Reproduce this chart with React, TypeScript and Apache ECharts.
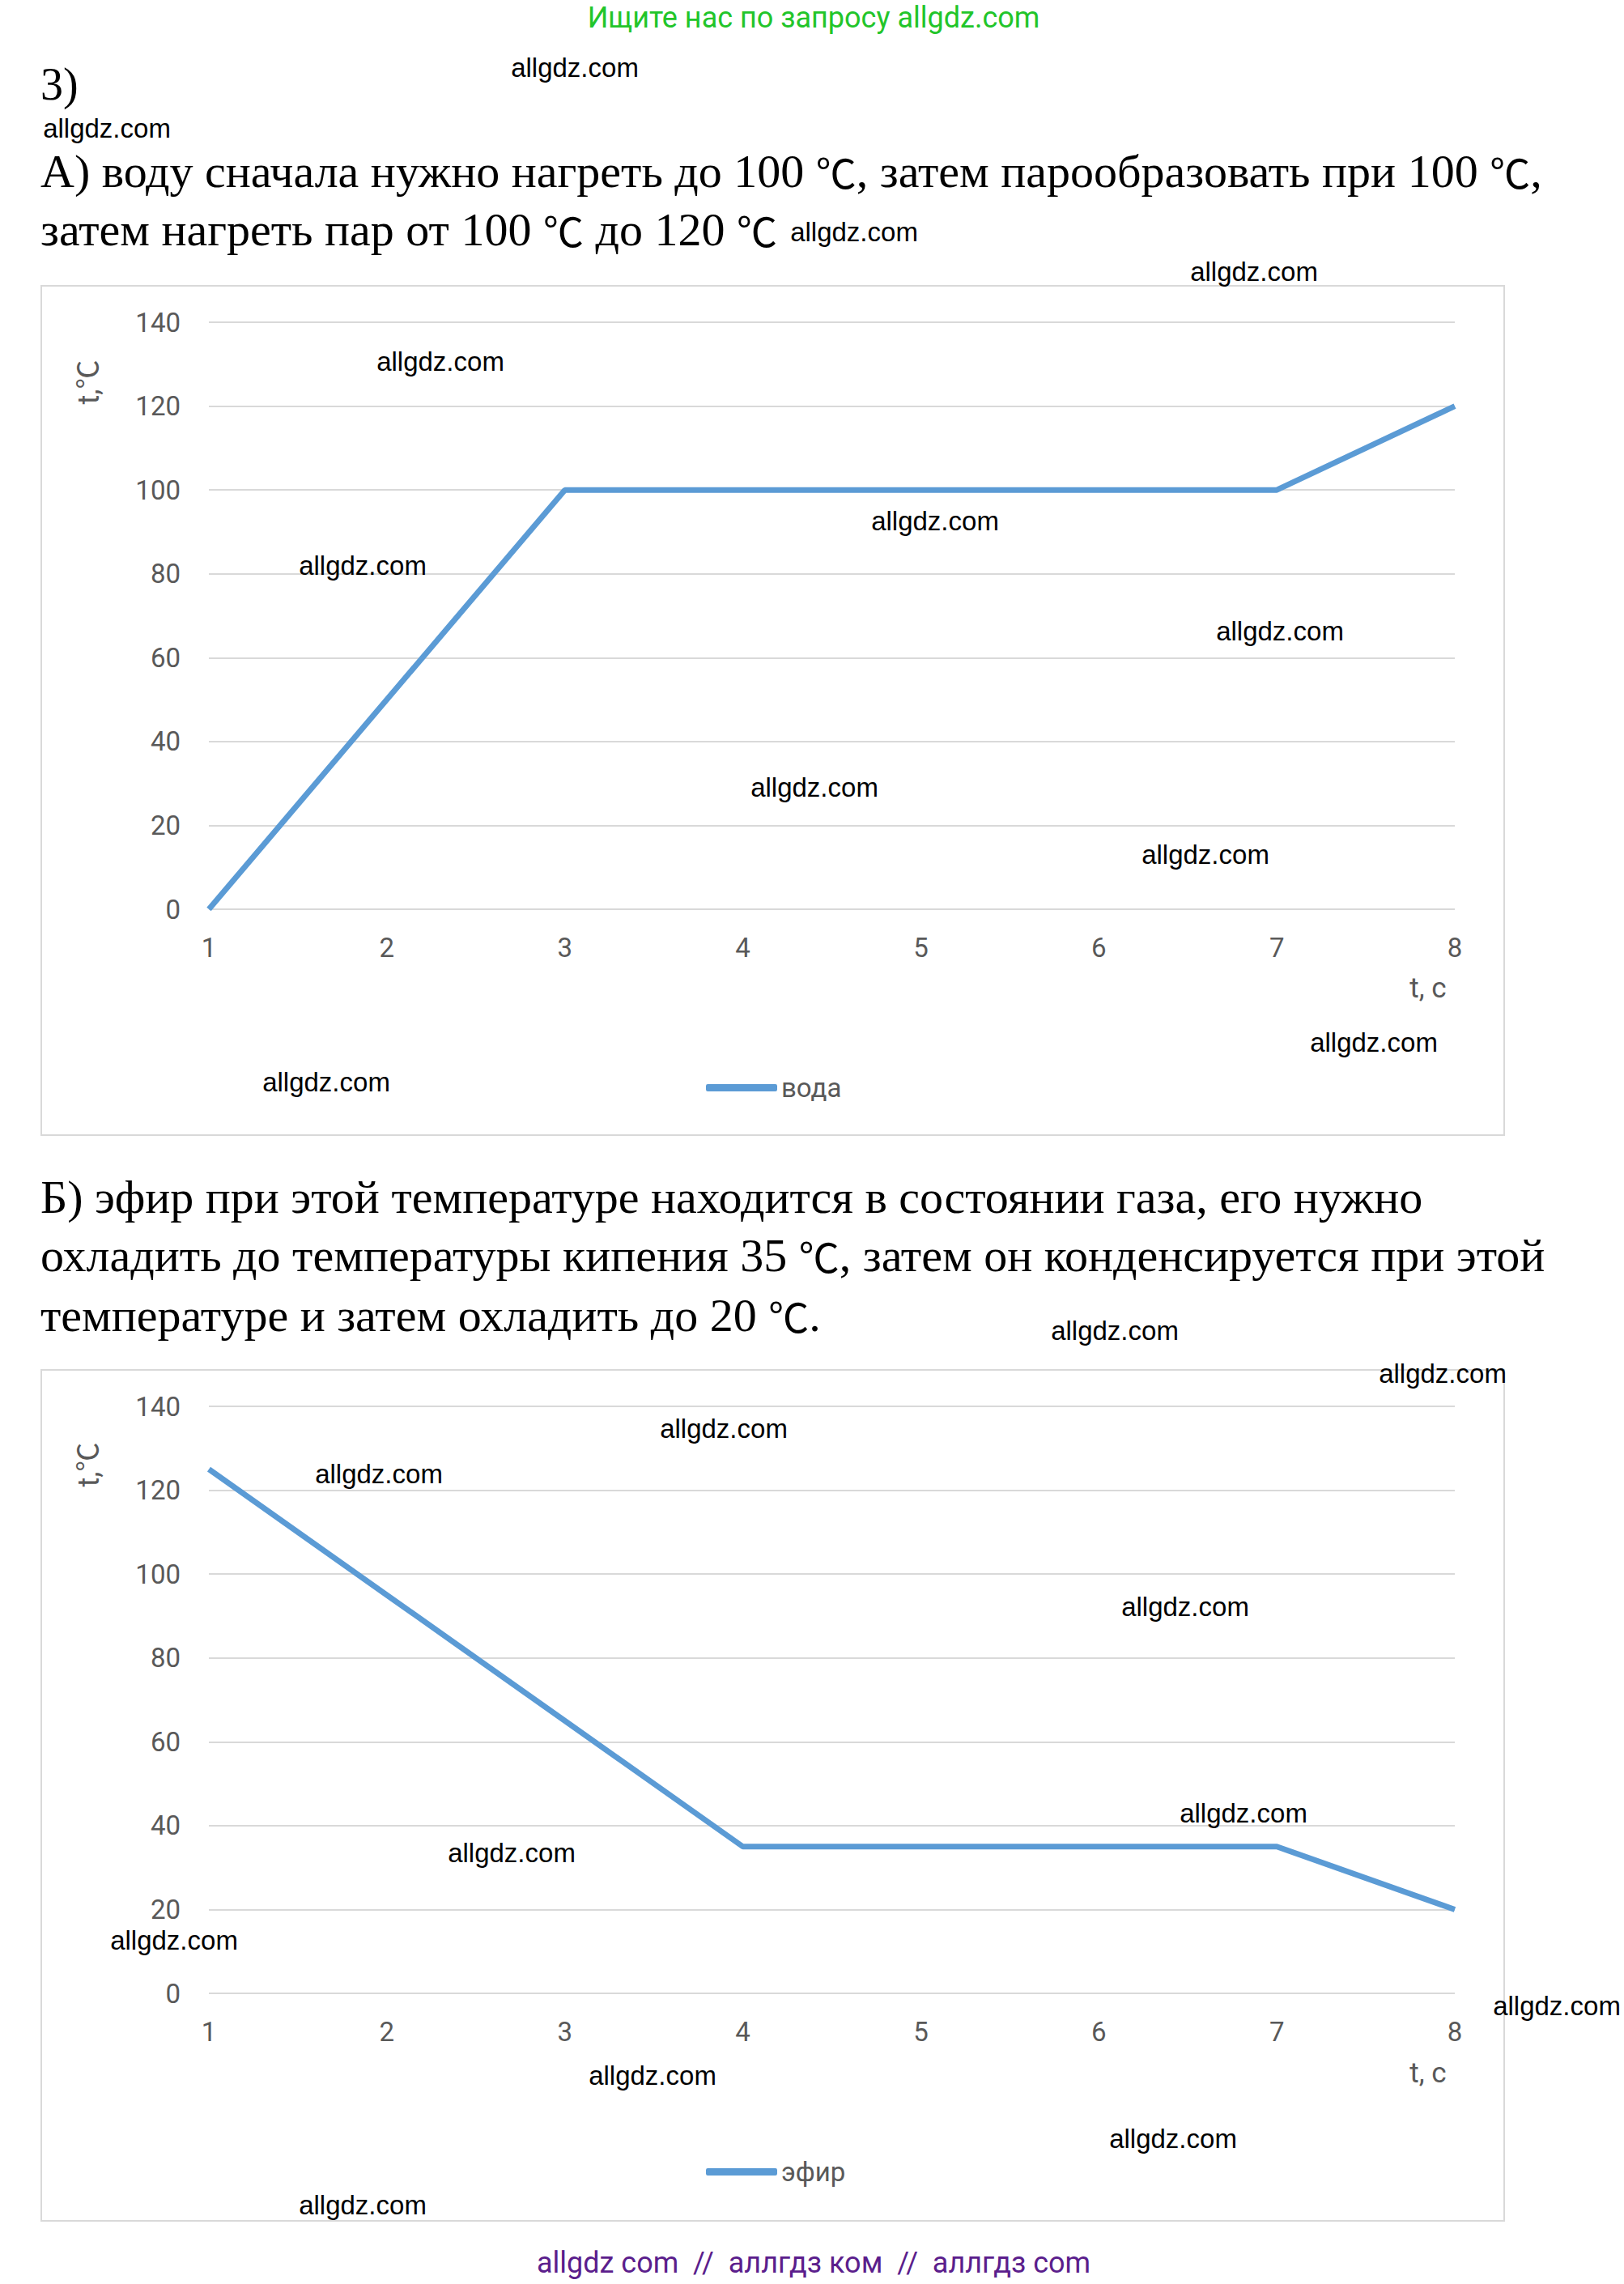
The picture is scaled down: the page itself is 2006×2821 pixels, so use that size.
import React, { useEffect, useRef } from "react";
import * as echarts from "echarts";

const categories = ["1", "2", "3", "4", "5", "6", "7", "8"];
const waterValues = [0, 50, 100, 100, 100, 100, 100, 120];
const etherValues = [125, 95, 65, 35, 35, 35, 35, 20];
const seriesNames = ["вода", "эфир"];
const yMin = 0;
const yMax = 140;
const yStep = 20;

const headerText = "Ищите нас по запросу allgdz.com";
const footerText = "allgdz com  //  аллгдз ком  //  аллгдз com";
const partNumber = "3)";
const textA = [
  "А) воду сначала нужно нагреть до 100 ℃, затем парообразовать при 100 ℃,",
  "затем нагреть пар от 100 ℃ до 120 ℃",
];
const textB = [
  "Б) эфир при этой температуре находится в состоянии газа, его нужно",
  "охладить до температуры кипения 35 ℃, затем он конденсируется при этой",
  "температуре и затем охладить до 20 ℃.",
];
const yAxisTitle = "t,℃";
const xAxisTitle = "t, c";
const watermark = "allgdz.com";
const watermarkSpots: [number, number][] = [
  [710, 83], [132, 158], [1055, 286], [1549, 335], [544, 446], [1155, 643],
  [448, 698], [1581, 779], [1006, 972], [1489, 1055], [1697, 1287], [403, 1336],
  [1377, 1643], [1782, 1696], [894, 1764], [468, 1820], [1464, 1984], [1536, 2239],
  [632, 2288], [215, 2396], [1923, 2477], [806, 2563], [1449, 2641], [448, 2723],
];

const LINE = "#5b9bd5";
const GRIDC = "#d9d9d9";
const LABELC = "#595959";
const SANS = "Roboto, 'Noto Sans CJK SC', 'Noto Sans', sans-serif";
const SERIF = "'Liberation Serif', 'Noto Sans CJK SC', 'DejaVu Serif', serif";
const CJK = "'Noto Sans CJK SC', 'DejaVu Serif', serif";
const WM = "'Liberation Sans', Arial, sans-serif";

function degreeRich(t: string) {
  return t.replace(/℃/g, "{c|℃}");
}

export default function App() {
  const ref = useRef<HTMLDivElement>(null);
  useEffect(() => {
    if (!ref.current) return;
    const chart = echarts.init(ref.current, null, { renderer: "svg" });
    const grids = [
      { left: 258, width: 1539, top: 398, height: 725 },
      { left: 258, width: 1539, top: 1737, height: 725 },
    ];
    const xAxis = grids.map((_, i) => ({
      type: "category" as const,
      gridIndex: i,
      data: categories,
      boundaryGap: false,
      axisLine: { show: false },
      axisTick: { show: false },
      axisLabel: { color: LABELC, fontSize: 33, fontFamily: SANS, margin: 31 },
    }));
    const yAxis = grids.map((_, i) => ({
      type: "value" as const,
      gridIndex: i,
      min: yMin,
      max: yMax,
      interval: yStep,
      axisLine: { show: false },
      axisTick: { show: false },
      splitLine: { lineStyle: { color: GRIDC, width: 2 } },
      axisLabel: { color: LABELC, fontSize: 33, fontFamily: SANS, margin: 35 },
    }));
    const series = [waterValues, etherValues].map((d, i) => ({
      type: "line" as const,
      name: seriesNames[i],
      xAxisIndex: i,
      yAxisIndex: i,
      data: d,
      showSymbol: false,
      symbol: "none",
      lineStyle: { color: LINE, width: 7 },
      itemStyle: { color: LINE },
    }));
    const legendTops = [1322, 2661];
    const legend = legendTops.map((t, i) => ({
      data: [seriesNames[i]],
      top: t,
      left: 867,
      icon: "roundRect",
      itemWidth: 88,
      itemHeight: 9,
      textStyle: { color: LABELC, fontSize: 33, fontFamily: SANS },
    }));
    const serifStyle = (t: string) => ({
      text: degreeRich(t),
      fill: "#000",
      fontSize: 58,
      fontFamily: SERIF,
      align: "left",
      verticalAlign: "middle",
      rich: { c: { fontSize: 50, fontFamily: CJK, fill: "#000" } },
    });
    const graphic: any[] = [];
    graphic.push({ type: "rect", z: -1, shape: { x: 51, y: 353, width: 1807, height: 1049 }, style: { fill: "none", stroke: "#d9d9d9", lineWidth: 2 } });
    graphic.push({ type: "rect", z: -1, shape: { x: 51, y: 1692, width: 1807, height: 1051 }, style: { fill: "none", stroke: "#d9d9d9", lineWidth: 2 } });
    graphic.push({ type: "text", x: 1005, y: 22, style: { text: headerText, fill: "#22c52a", fontSize: 36, fontFamily: SANS, align: "center", verticalAlign: "middle" } });
    graphic.push({ type: "text", x: 1005, y: 2795, style: { text: footerText, fill: "#5b1e8c", fontSize: 36, fontFamily: SANS, align: "center", verticalAlign: "middle" } });
    graphic.push({ type: "text", x: 50, y: 104, style: { text: partNumber, fill: "#000", fontSize: 56, fontFamily: SERIF, align: "left", verticalAlign: "middle" } });
    const aY = [211, 283];
    textA.forEach((t, i) => graphic.push({ type: "text", x: 50, y: aY[i], style: serifStyle(t) }));
    const bY = [1478, 1550, 1624];
    textB.forEach((t, i) => graphic.push({ type: "text", x: 50, y: bY[i], style: serifStyle(t) }));
    [472, 1809].forEach((y) => graphic.push({ type: "text", x: 110, y, rotation: Math.PI / 2, style: { text: yAxisTitle, fill: LABELC, fontSize: 36, fontFamily: SANS, align: "center", verticalAlign: "middle" } }));
    [1220, 2560].forEach((y) => graphic.push({ type: "text", x: 1764, y, style: { text: xAxisTitle, fill: LABELC, fontSize: 35, fontFamily: SANS, align: "center", verticalAlign: "middle" } }));
    watermarkSpots.forEach(([x, y]) => graphic.push({ type: "text", x, y, z: 10, style: { text: watermark, fill: "#000", fontSize: 33, fontFamily: WM, align: "center", verticalAlign: "middle" } }));

    chart.setOption({
      animation: false,
      backgroundColor: "#ffffff",
      grid: grids,
      xAxis,
      yAxis,
      series,
      legend,
      graphic,
    });
    return () => chart.dispose();
  }, []);
  return <div ref={ref} style={{ position: "absolute", left: 0, top: 0, width: 2006, height: 2821 }} />;
}
